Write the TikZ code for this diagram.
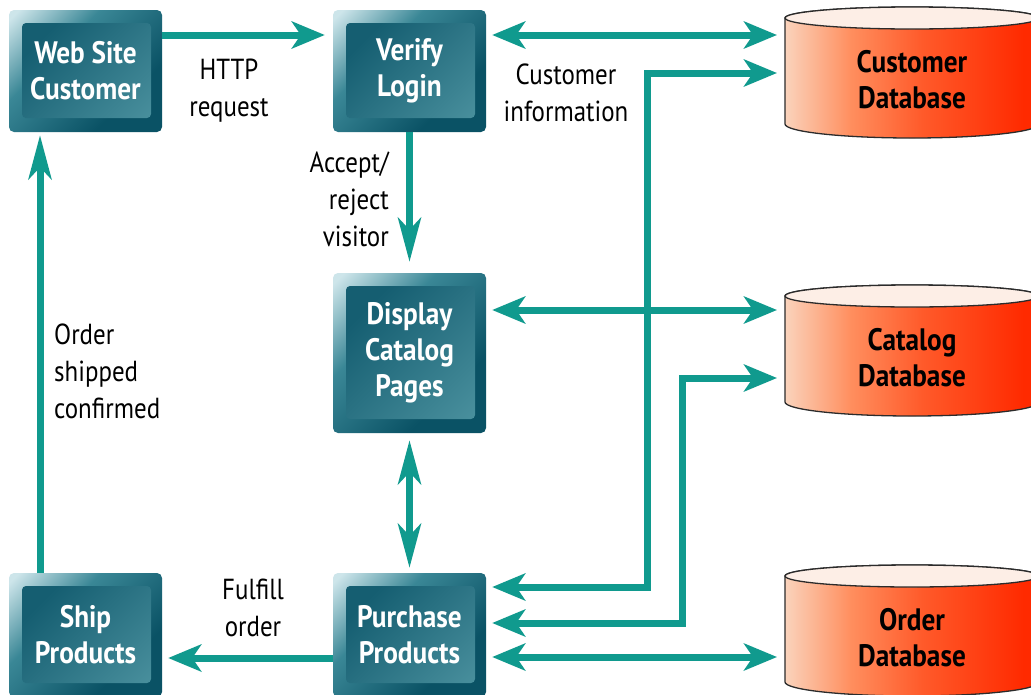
\documentclass[tikz,border=0pt]{standalone}
\usepackage{fontspec}
\setmainfont[FakeStretch=0.86]{PT Sans}
\newfontfamily\heavyfont[FakeStretch=0.88]{PT Sans Bold}
\usetikzlibrary{arrows.meta,calc}

% palette
\definecolor{flowteal}{HTML}{109A8E}
\definecolor{boxhi}{HTML}{CDE5EA}
\definecolor{boxmid}{HTML}{3A8796}
\definecolor{boxdark}{HTML}{0A5265}
\definecolor{innerdark}{HTML}{155E71}
\definecolor{innerlight}{HTML}{4F95A2}
\definecolor{dbleft}{HTML}{FAD3BC}
\definecolor{dbmid}{HTML}{FF8E5E}
\definecolor{dbdeep}{HTML}{FF5A2A}
\definecolor{dbright}{HTML}{FF2A00}
\definecolor{dbtop}{HTML}{FDEEE6}
\definecolor{dbedge}{HTML}{2B2B2B}

% shadings for the process boxes and the database drums
\pgfdeclarehorizontalshading{procouter}{100bp}{color(0bp)=(boxhi); color(17bp)=(boxhi); color(38bp)=(boxmid); color(68bp)=(boxdark); color(100bp)=(boxdark)}
\pgfdeclarehorizontalshading{procinner}{100bp}{color(0bp)=(innerdark); color(30bp)=(innerdark); color(85bp)=(innerlight); color(100bp)=(innerlight)}
\pgfdeclarehorizontalshading{dbbody}{100bp}{color(0bp)=(dbleft); color(25bp)=(dbleft); color(38bp)=(dbmid); color(52bp)=(dbdeep); color(72bp)=(dbright); color(100bp)=(dbright)}

\tikzset{
  hhead/.tip={Stealth[length=33pt,width=27pt,inset=9pt]},
  vhead/.tip={Stealth[length=44pt,width=23pt,inset=12pt]},
  flow/.style={draw=flowteal, line width=7pt},
  proc/.style={minimum width=153pt, minimum height=122pt, rounded corners=5pt,
    shade, shading=procouter, shading angle=-45, inner sep=0pt,
    text=white, align=center,
    font=\heavyfont\fontsize{31pt}{36pt}\selectfont,
    path picture={\shade[shading=procinner, shading angle=-45, rounded corners=4pt]
      ($(path picture bounding box.north west)+(13,13)$) rectangle
      ($(path picture bounding box.south east)+(-11,-14)$);}},
  lbl/.style={inner sep=0pt, font=\fontsize{29pt}{37pt}\selectfont},
  dbtext/.style={inner sep=0pt, align=center, font=\heavyfont\fontsize{31pt}{36pt}\selectfont},
  dbcyl/.pic={
    \shade[shading=dbbody, draw=dbedge, line width=1.3pt]
      (-127,-62) -- (-127,44) arc[start angle=180, end angle=0, x radius=127, y radius=14]
      -- (127,-62) arc[start angle=0, end angle=-180, x radius=127, y radius=11] -- cycle;
    \filldraw[fill=dbtop, draw=dbedge, line width=1.3pt] (0,-62) ellipse[x radius=127, y radius=11];
  }
}

\begin{document}
\begin{tikzpicture}[x=1pt, y=-1pt]
\useasboundingbox (0,0) rectangle (1031,694);
\clip (0,0) rectangle (1031,694);
\fill[white] (0,0) rectangle (1031,694);

% databases
\pic at (912,80) {dbcyl};
\pic at (912,358) {dbcyl};
\pic at (912,638) {dbcyl};
\node[dbtext] (cdb) at (912,80) {Customer\\Database};
\node[dbtext] (catdb) at (912,358) {Catalog\\Database};
\node[dbtext] (odb) at (912,638) {Order\\Database};
\coordinate (cdbL) at ($(cdb.center)+(-127,0)$);
\coordinate (catdbL) at ($(catdb.center)+(-127,0)$);
\coordinate (odbL) at ($(odb.center)+(-127,0)$);

% process boxes
\node[proc] (wsc) at (85.5,71) {Web Site\\Customer};
\node[proc] (vl) at (409.5,71) {Verify\\Login};
\node[proc, minimum height=160pt] (dcp) at (409.5,353) {Display\\Catalog\\Pages};
\node[proc, minimum height=124pt] (ship) at (85.5,635) {Ship\\Products};
\node[proc, minimum height=124pt] (pp) at (409.5,635) {Purchase\\Products};

% rows and columns of the connectors
\coordinate (r1) at (0,35);
\coordinate (r4) at (0,310);
\coordinate (j1) at (647,73);
\coordinate (p1) at (0,587);
\coordinate (j2) at (682,378);
\coordinate (p2) at (0,623);
\coordinate (r8) at (0,657);
\coordinate (r9) at (0,658);
\coordinate (c10) at (40,0);

% connectors
\draw[flow, -hhead, shorten >=8pt] (wsc.east |- r1) -- (vl.west |- r1);
\draw[flow, hhead-hhead, shorten <=6pt, shorten >=8pt] (vl.east |- r1) -- (cdbL |- r1);
\draw[flow, -vhead, shorten >=11pt] (vl.south) -- (dcp.north);
\draw[flow, hhead-hhead, shorten <=6pt, shorten >=8pt] (dcp.east |- r4) -- (catdbL |- r4);
\draw[flow, vhead-vhead, shorten <=7pt, shorten >=5pt] (dcp.south) -- (pp.north);
\draw[flow, hhead-hhead, shorten <=8pt, shorten >=6pt] (cdbL |- j1) -- (j1) -- (j1 |- p1) -- (pp.east |- p1);
\draw[flow, hhead-hhead, shorten <=8pt, shorten >=6pt] (catdbL |- j2) -- (j2) -- (j2 |- p2) -- (pp.east |- p2);
\draw[flow, hhead-hhead, shorten <=6pt, shorten >=8pt] (pp.east |- r8) -- (odbL |- r8);
\draw[flow, -hhead, shorten >=6pt] (pp.west |- r9) -- (ship.east |- r9);
\draw[flow, -vhead, shorten >=3pt] (ship.north -| c10) -- (wsc.south -| c10);

% connector labels
\node[lbl, align=center] (http) at (229,91) {HTTP\\request};
\node[lbl, align=center] (cinfo) at (566,93) {Customer\\information};
\node[lbl, align=right, anchor=east] (accept) at (389,199) {Accept/\\reject\\visitor};
\node[lbl, align=left, anchor=west] (shipped) at (54,371) {Order\\shipped\\confirmed};
\node[lbl, align=center] (fulfill) at (253,608) {Fulfill\\order};
\end{tikzpicture}
\end{document}
